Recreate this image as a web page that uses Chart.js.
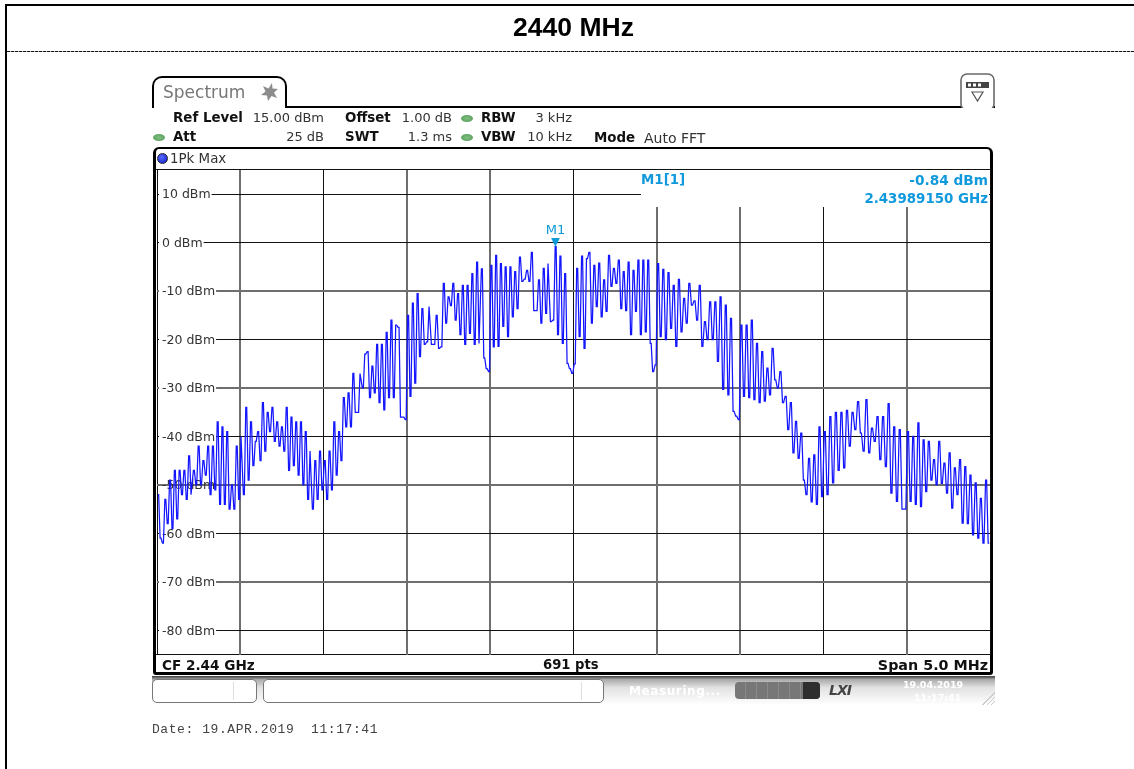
<!DOCTYPE html>
<html><head><meta charset="utf-8">
<script src="https://cdn.jsdelivr.net/npm/chart.js@4"></script>
<style>
html,body{margin:0;padding:0;width:1134px;height:769px;overflow:hidden;background:#fff}
#stage{position:absolute;left:0;top:0;width:1134px;height:769px;overflow:hidden}
.b{position:absolute;box-sizing:border-box}
.t{position:absolute;white-space:nowrap;font:13px/16px "DejaVu Sans",sans-serif;color:#333;z-index:5}
.s{font-weight:bold;color:#111;font-size:13.4px}
.r{transform:translateX(-100%)}
.c{color:#1199dd;font-weight:bold;font-size:13.4px}
.led{position:absolute;width:12px;height:7px;border-radius:50%;background:radial-gradient(#84c084,#4a9650);z-index:5}
canvas{position:absolute;left:6px;top:0;z-index:2}
</style></head><body><div id="stage">
<!-- page frame -->
<div class="b" style="left:5px;top:4px;width:1129px;height:2px;background:#000"></div>
<div class="b" style="left:5px;top:4px;width:2px;height:765px;background:#000"></div>
<div class="b" style="left:7px;top:51px;width:1127px;height:1px;background:repeating-linear-gradient(90deg,#111 0 3px,#bbb 3px 4px)"></div>

<!-- spectrum tab + header -->
<div class="b" style="left:152px;top:76px;width:135px;height:32px;border:2px solid #000;border-bottom:0;border-radius:10px 10px 0 0"></div>
<div class="b" style="left:286px;top:106px;width:709px;height:2px;background:#000"></div>
<div class="t" style="left:163px;top:83px;font-size:17px;line-height:18px;color:#777">Spectrum</div>
<svg class="b" style="left:259px;top:82px" width="20" height="20" viewBox="0 0 20 20"><polygon points="13,1 13.5,6.5 19,7 15,10.5 18,16 12.5,14 9,19 8,13.5 2,13 6.5,9.5 4,4 9.5,6.5" fill="#8c8c8c"/></svg>
<svg class="b" style="left:960px;top:73px" width="35" height="35" viewBox="0 0 35 35"><rect x="1" y="1" width="33" height="36" rx="6" fill="#fff" stroke="#6a6a6a" stroke-width="1.6"/><rect x="6" y="9" width="23" height="6" fill="#444"/><rect x="8" y="10.5" width="3" height="3" fill="#fff"/><rect x="13" y="10.5" width="3" height="3" fill="#fff"/><rect x="18" y="10.5" width="3" height="3" fill="#fff"/><polygon points="12,19 23,19 17.5,28" fill="#fff" stroke="#555" stroke-width="1.2"/></svg>

<div class="t s" style="left:173px;top:110px">Ref Level</div>
<div class="t r" style="left:324px;top:110px">15.00 dBm</div>
<div class="t s" style="left:345px;top:110px">Offset</div>
<div class="t r" style="left:452px;top:110px">1.00 dB</div>
<div class="led" style="left:461px;top:115px"></div>
<div class="t s" style="left:481px;top:110px">RBW</div>
<div class="t r" style="left:572px;top:110px">3 kHz</div>
<div class="led" style="left:153px;top:134px"></div>
<div class="t s" style="left:173px;top:129px">Att</div>
<div class="t r" style="left:324px;top:129px">25 dB</div>
<div class="t s" style="left:345px;top:129px">SWT</div>
<div class="t r" style="left:452px;top:129px">1.3 ms</div>
<div class="led" style="left:461px;top:134px"></div>
<div class="t s" style="left:481px;top:129px">VBW</div>
<div class="t r" style="left:572px;top:129px">10 kHz</div>
<div class="t s" style="left:594px;top:130px">Mode</div>
<div class="t" style="left:644px;top:130px;font-size:14px">Auto FFT</div>

<!-- diagram frame -->
<div class="b" style="left:153px;top:147px;width:840px;height:528px;border:solid #000;border-width:2px 3px 3px 3px;border-radius:6px 6px 3px 3px"></div>
<div class="b" style="left:156px;top:169px;width:834px;height:1px;background:#111"></div>
<div class="b" style="left:156px;top:654px;width:834px;height:1px;background:#111"></div>
<div class="b" style="left:157px;top:153px;width:11px;height:11px;border-radius:50%;background:radial-gradient(circle at 40% 35%,#5a6cff,#0a18c8);border:1px solid #222;z-index:5"></div>
<div class="t" style="left:170px;top:151px;font-size:13.4px">1Pk Max</div>
<div class="t c" style="left:641px;top:172px">M1[1]</div>
<div class="t c r" style="left:988px;top:172px;font-size:13.7px">-0.84 dBm</div>
<div class="t c r" style="left:988px;top:191px">2.43989150 GHz</div>
<div class="t s" style="left:162px;top:657px;font-size:13.6px">CF 2.44 GHz</div>
<div class="t s" style="left:543px;top:657px;font-size:13.2px">691 pts</div>
<div class="t s r" style="left:988px;top:657px;font-size:14.3px">Span 5.0 MHz</div>

<!-- status bar -->
<div class="b" style="left:152px;top:676px;width:843px;height:29px;background:linear-gradient(#3c3c3c 0,#aaa 12%,#e2e2e2 40%,#fff 100%)"></div>
<div class="b" style="left:152px;top:679px;width:105px;height:24px;background:#fff;border:1px solid #777;border-radius:5px"></div>
<div class="b" style="left:233px;top:682px;width:1px;height:18px;background:#ddd"></div>
<div class="b" style="left:263px;top:679px;width:341px;height:24px;background:#fff;border:1px solid #777;border-radius:5px"></div>
<div class="b" style="left:581px;top:682px;width:1px;height:18px;background:#ddd"></div>
<div class="t" style="left:629px;top:683px;color:#fff;font-weight:bold;letter-spacing:.6px;font-size:12px">Measuring...</div>
<div class="b" style="left:735px;top:682px;width:85px;height:17px;border-radius:4px;background:repeating-linear-gradient(90deg,#777 0 10px,#8a8a8a 10px 11px)"></div>
<div class="b" style="left:803px;top:682px;width:17px;height:17px;border-radius:0 4px 4px 0;background:#2e2e2e"></div>
<div class="t" style="left:829px;top:682px;color:#444;font:italic bold 14px/16px 'DejaVu Sans',sans-serif;letter-spacing:-1px">LXI</div>
<div class="t" style="left:903px;top:678px;color:#fff;font-weight:bold;font-size:9.5px;line-height:14px">19.04.2019</div>
<div class="t" style="left:914px;top:691px;color:#fff;font-weight:bold;font-size:9.5px;line-height:14px">11:17:41</div>
<div class="b" style="left:980px;top:690px;width:15px;height:15px;background:repeating-linear-gradient(135deg,#ccc 0 1px,transparent 1px 3px);clip-path:polygon(100% 0,100% 100%,0 100%)"></div>

<div class="t" style="left:152px;top:722px;font:13px/16px 'Liberation Mono',monospace;letter-spacing:.57px;color:#444;white-space:pre">Date: 19.APR.2019  11:17:41</div>
<canvas id="c" width="1134" height="769"></canvas>
</div>
<script>
// Axis
const chartTitle = '2440 MHz';
const freqDivisionsMHz = [2437.5,2438,2438.5,2439,2439.5,2440,2440.5,2441,2441.5,2442,2442.5];
const levelTicksDbm = [10,0,-10,-20,-30,-40,-50,-60,-70,-80];
// Trace readings in dBm, one list for each graticule division
const div1 = [-52,-61,-62,-53,-58,-49,-59,-47,-57,-47,-52,-47,-53,-44,-52,-47,-50,-42,-50,-45,-48,-42,-52,-42,-51,-37,-54,-38,-54,-39,-55,-50,-55,-42,-53];
const div2 = [-40,-52,-34,-49,-37,-46,-41,-39,-45,-33,-43,-35,-39,-34,-41,-37,-42,-38,-43,-34,-47,-36,-46,-37,-48,-37,-50,-39,-53,-43,-55,-45,-53,-43,-51];
const div3 = [-45,-53,-43,-51,-37,-48,-39,-45,-32,-38,-31,-38,-27,-35,-35,-27,-30,-23,-22.5,-32,-25.5,-31,-21,-33,-21,-34.5,-18.5,-32,-16,-32,-17,-17.5,-36,-36,-36.5];
const div4 = [-15,-31.7,-12.5,-29,-10.5,-23.5,-13.6,-21,-20.5,-13.2,-21,-21,-15,-21.8,-21.5,-8.4,-16.6,-11.2,-13,-8.4,-16,-10.5,-19,-8.8,-21,-8.8,-18.7,-6.4,-21,-4,-20.8,-5.4,-23.8,-26,-26.6];
const div5 = [-4.7,-21.5,-2.6,-21.4,-4.3,-17.3,-5,-19.4,-5,-15.3,-6,-13.6,-3,-8,-7.5,-5.7,-8,-2,-14,-14,-7.7,-16.6,-5.3,-14.6,-4.3,-16.3,-16,-0.84,-19,-2.8,-20.8,-6.4,-24.9,-26,-27];
const div6 = [-25,-5.3,-19.4,-2.8,-21.8,-3.3,-2,-16.6,-4.7,-13.2,-4.2,-15.3,-7.7,-14.2,-2.6,-9,-5.3,-8.4,-3.6,-13.6,-6,-14,-4,-19,-5.7,-14.2,-3.6,-19,-3.6,-18.4,-3.6,-20.8,-26.6,-25.2];
const div7 = [-4.3,-19.4,-5.5,-20,-6.2,-17.7,-8.8,-21.4,-7.6,-18.4,-11.5,-16.6,-8.4,-12.9,-12,-16,-8.8,-21.4,-16.3,-20,-12.2,-20,-12.2,-24.5,-11.2,-30.3,-12.9,-31.4,-15.6,-34.8,-35.8,-36.5];
const div8 = [-17,-31.7,-17,-32,-16,-32.4,-20.8,-33,-22.5,-32.7,-25.9,-31.4,-21.8,-28.3,-30,-26.6,-33,-31.7,-38.6,-33,-43.4,-36.9,-44.5,-39.3,-49,-52,-44.5,-53.5,-43.8,-54,-38,-52.4];
const div9 = [-39,-52,-35.9,-49.6,-35,-47,-35,-46.5,-34.6,-42,-35,-38.6,-32.8,-39.3,-43,-32.4,-43.4,-38.3,-41,-35.9,-44.8,-35.9,-46.2,-33.2,-51.7,-38,-53.4,-38.6,-55,-55];
const div10 = [-39,-53.4,-40,-54,-37.2,-54.5,-40.7,-51.4,-41,-49,-44.8,-50,-41,-49.7,-45.5,-51.7,-43.4,-54.8,-46.5,-52,-44.8,-57.9,-46.2,-58,-48,-60.3,-49.6,-61,-52.8,-62,-49,-62];
const traceDivisions = [div1,div2,div3,div4,div5,div6,div7,div8,div9,div10];
const markerFreqMHz = 2439.8915;
const markerLevelDbm = -0.84;
const markerName = 'M1';

const BLUE = '#1416ff', CYAN = '#0f9ad8';
const tracePoints = [];
traceDivisions.forEach((vals, d) => {
  const a = freqDivisionsMHz[d], b = freqDivisionsMHz[d + 1];
  vals.forEach((v, j) => {
    // each reading holds briefly, so the flanks stay steep as on the analyser trace
    tracePoints.push({ x: a + (b - a) * (j + 0.3) / vals.length, y: v });
    tracePoints.push({ x: a + (b - a) * (j + 0.7) / vals.length, y: v });
  });
});
// marker glyph: tip of the triangle sits on the data point
const tri = document.createElement('canvas'); tri.width = 9; tri.height = 18;
{ const g = tri.getContext('2d'); g.fillStyle = CYAN; g.beginPath(); g.moveTo(0,0); g.lineTo(9,0); g.lineTo(4.5,9); g.closePath(); g.fill(); }

const greyX = new Set([2438, 2439, 2439.5, 2440.5, 2441, 2442]);
const greyY = new Set([-10,-30,-50,-70]);
const readoutMask = { id:'readoutMask', beforeDatasetsDraw(ch){ const g=ch.ctx; g.save(); g.fillStyle='#fff'; g.fillRect(635,170,348,37); g.restore(); } };
const markerLabel = { id:'markerLabel', afterDatasetsDraw(ch){ const p=ch.getDatasetMeta(1).data[0]; const g=ch.ctx; g.save(); g.fillStyle=CYAN; g.font='13px "DejaVu Sans"'; g.textAlign='center'; g.textBaseline='alphabetic'; g.fillText(markerName,p.x,p.y-12.5); g.restore(); } };

new Chart(document.getElementById('c'), {
  type:'scatter',
  data:{ datasets:[
    { label:'1Pk Max', data:tracePoints, showLine:true, borderColor:BLUE, borderWidth:1.25, pointRadius:0, tension:0, order:2 },
    { label:markerName, data:[{x:markerFreqMHz,y:markerLevelDbm}], showLine:false, pointStyle:tri, pointRadius:5, order:1 }
  ]},
  options:{
    responsive:false, animation:false, devicePixelRatio:1,
    layout:{ padding:{ left:151, right:150, top:0, bottom:114.5 } },
    plugins:{
      legend:{display:false}, tooltip:{enabled:false},
      title:{ display:true, text:chartTitle, color:'#000', font:{family:'"Liberation Sans"',size:26.5,weight:'bold',lineHeight:1.2}, padding:{top:13,bottom:125.2} }
    },
    scales:{
      x:{ type:'linear', min:freqDivisionsMHz[0], max:freqDivisionsMHz[10],
        afterBuildTicks(s){ s.ticks = freqDivisionsMHz.map(v=>({value:v})); },
        ticks:{display:false}, border:{display:false},
        grid:{ drawTicks:false, tickLength:0,
          color:c=>greyX.has(c.tick.value)?'#6e6e6e':'#111',
          lineWidth:c=>greyX.has(c.tick.value)?2:1 } },
      y:{ type:'linear', min:-85, max:15,
        afterBuildTicks(s){ s.ticks = levelTicksDbm.slice().reverse().map(v=>({value:v})); },
        afterFit(s){ s.width=0; },
        border:{display:false},
        ticks:{ mirror:true, padding:5, labelOffset:1, color:'#333', font:{family:'"DejaVu Sans"',size:12.5,lineHeight:1.1},
          callback:v=>v+' dBm', autoSkip:false,
          showLabelBackdrop:true, backdropPadding:{left:3,right:1,top:1,bottom:1},
          backdropColor:c=>c.tick.value===-50?'rgba(255,255,255,0)':'#fff' },
        grid:{ drawTicks:false, tickLength:0,
          color:c=>greyY.has(c.tick.value)?'#6e6e6e':'#111',
          lineWidth:c=>greyY.has(c.tick.value)?2:1 } }
    }
  },
  plugins:[readoutMask, markerLabel]
});
</script></body></html>
